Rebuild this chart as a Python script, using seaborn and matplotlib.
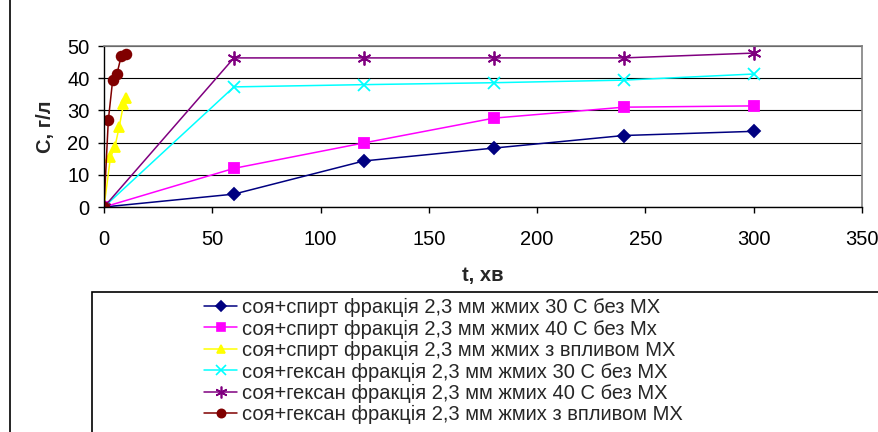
import matplotlib
matplotlib.use("Agg")
import matplotlib.pyplot as plt
import seaborn as sns
import pandas as pd
from matplotlib.patches import Rectangle
from matplotlib.lines import Line2D

sns.set_style("white")
plt.rcParams['font.family'] = ['Liberation Sans', 'DejaVu Sans']

labels = [
    "соя+спирт фракція 2,3 мм жмих 30 С без МХ",
    "соя+спирт фракція 2,3 мм жмих 40 С без Мх",
    "соя+спирт фракція 2,3 мм жмих з впливом МХ",
    "соя+гексан фракція 2,3 мм жмих 30 С без МХ",
    "соя+гексан фракція 2,3 мм жмих 40 С без МХ",
    "соя+гексан фракція 2,3 мм жмих з впливом МХ",
]
t_long = [0, 60, 120, 180, 240, 300]
spirt30 = [0, 4.0, 14.3, 18.3, 22.2, 23.5]
spirt40 = [0, 12.0, 19.9, 27.6, 31.0, 31.4]
t_yellow = [0, 3, 5, 7, 9, 10]
spirt_mx = [0, 15.5, 18.6, 24.8, 31.9, 33.9]
geksan30 = [0, 37.3, 38.0, 38.6, 39.4, 41.3]
geksan40 = [0, 46.3, 46.3, 46.3, 46.3, 47.8]
t_brown = [0, 2, 4, 6, 8, 10]
geksan_mx = [0, 27.0, 39.4, 41.4, 47.0, 47.4]

series = [
    (t_long, spirt30, "#000080", "D", 6),
    (t_long, spirt40, "#FF00FF", "s", 6.5),
    (t_yellow, spirt_mx, "#FFFF00", "^", 7.5),
    (t_long, geksan30, "#00FFFF", "x", 8),
    (t_long, geksan40, "#800080", (6, 2, 0), 10),
    (t_brown, geksan_mx, "#800000", "o", 7),
]

FS = 14.5

fig = plt.figure(figsize=(8.79, 4.32), dpi=100)
ax = fig.add_axes([104/879, 1-207/432, (862-104)/879, (207-46)/432])

handles = []
for (tx, vals, col, mk, ms), lab in zip(series, labels):
    df = pd.DataFrame({"t": tx, "c": vals})
    sns.lineplot(data=df, x="t", y="c", ax=ax, color=col, marker=mk,
                 markersize=ms, markeredgecolor=col, markerfacecolor=col,
                 markeredgewidth=1.3, linewidth=1.1, sort=False, estimator=None,
                 legend=False)
    handles.append(Line2D([0], [0], color=col, marker=mk, markersize=ms*0.85,
                          markeredgecolor=col, markerfacecolor=col,
                          markeredgewidth=1.2, linewidth=1.1))

ax.set_xlim(0, 350)
ax.set_ylim(0, 50)
ax.set_xticks(range(0, 351, 50))
ax.set_yticks(range(0, 51, 10))
ax.yaxis.grid(True, color="black", linewidth=0.8)
ax.set_axisbelow(True)
ax.tick_params(axis="both", labelsize=FS, direction="out", length=4.5,
               width=1, colors="black", bottom=True, left=True)
ax.tick_params(axis="x", pad=12)
ax.tick_params(axis="y", pad=6)
for s in ["left", "bottom"]:
    ax.spines[s].set_color("black")
    ax.spines[s].set_linewidth(1)
for s in ["top", "right"]:
    ax.spines[s].set_color("#808080")
    ax.spines[s].set_linewidth(1.2)

ax.set_xlabel("t, хв", fontsize=FS, fontweight="bold", labelpad=12)
ax.set_ylabel("С, г/л", fontsize=FS, fontweight="bold", labelpad=9)

# outer chart border on the left
fig.add_artist(Line2D([10/879, 10/879], [0, 1], transform=fig.transFigure,
                      color="black", linewidth=1.2))

# legend box
fig.add_artist(Rectangle((92/879, -0.1), 1.0, 1-292/432 + 0.1,
                         transform=fig.transFigure, fill=False,
                         edgecolor="black", linewidth=1.2))
fig.legend(handles, labels, loc="upper left",
           bbox_to_anchor=(204/879, 1-298/432), frameon=False,
           fontsize=FS, handlelength=1.65, handletextpad=0.25,
           labelspacing=0.12, borderpad=0, borderaxespad=0)

fig.savefig("out.png", dpi=100)
